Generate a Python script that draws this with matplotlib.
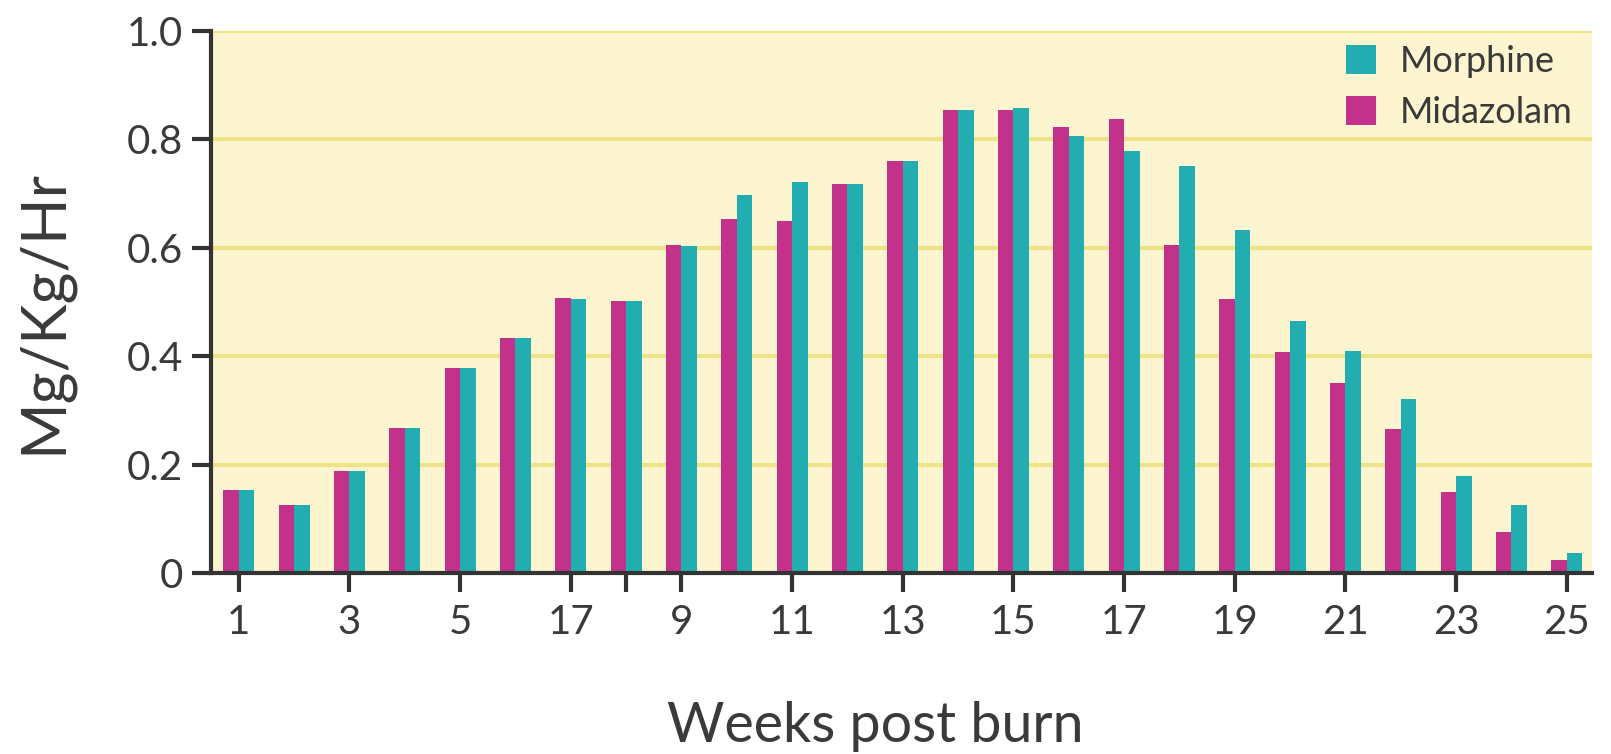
from matplotlib import pyplot as plt
import numpy as np

plt.rcParams['font.family'] = ['Lato', 'DejaVu Sans']

weeks = np.arange(1, 26)
midazolam = [0.154, 0.126, 0.188, 0.267, 0.378, 0.434, 0.507, 0.502, 0.606,
             0.653, 0.650, 0.718, 0.760, 0.855, 0.855, 0.822, 0.838, 0.606,
             0.505, 0.407, 0.350, 0.266, 0.150, 0.076, 0.024]
morphine = [0.154, 0.126, 0.188, 0.267, 0.378, 0.434, 0.505, 0.502, 0.603,
            0.698, 0.722, 0.718, 0.760, 0.855, 0.857, 0.806, 0.778, 0.750,
            0.633, 0.465, 0.410, 0.321, 0.179, 0.125, 0.037]

tick_pos = [1, 3, 5, 7, 8, 9, 11, 13, 15, 17, 19, 21, 23, 25]
tick_labels = ['1', '3', '5', '17', '', '9', '11', '13', '15', '17', '19',
               '21', '23', '25']

magenta = '#C2318A'
teal = '#22AEB0'
ink = '#333333'
txt = '#3a3a3a'

fig = plt.figure(figsize=(16.11, 7.54), dpi=100)
ax = fig.add_axes([0.131, 0.240, 0.857, 0.719])
ax.set_facecolor('#FDF5CF')

w = 0.28
ax.bar(weeks + w / 2, morphine, width=w, color=teal, label='Morphine', zorder=3)
ax.bar(weeks - w / 2, midazolam, width=w, color=magenta, label='Midazolam', zorder=3)

ax.set_xlim(0.5, 25.45)
ax.set_ylim(0, 1.0)
ax.set_yticks([0, 0.2, 0.4, 0.6, 0.8, 1.0])
ax.set_yticklabels(['0', '0.2', '0.4', '0.6', '0.8', '1.0'])
ax.set_xticks(tick_pos)
ax.set_xticklabels(tick_labels)

for y in [0.2, 0.4, 0.6, 0.8, 1.0]:
    ax.axhline(y, color='#EFE38A', lw=3, zorder=1)

for s in ['top', 'right']:
    ax.spines[s].set_visible(False)
for s in ['left', 'bottom']:
    ax.spines[s].set_color(ink)
    ax.spines[s].set_linewidth(3)
    ax.spines[s].set_zorder(4)

ax.tick_params(axis='both', colors=ink, width=3, length=14, labelsize=29,
               labelcolor=txt)
ax.tick_params(axis='x', pad=8)
ax.tick_params(axis='y', pad=6)

ax.set_xlabel('Weeks post burn', fontsize=40, color=txt)
ax.xaxis.set_label_coords(0.481, -0.236)
ax.set_ylabel('Mg/Kg/Hr', fontsize=44, color=txt, va='center')
ax.yaxis.set_label_coords(-0.121, 0.483)

ax.legend(loc='upper right', bbox_to_anchor=(0.986, 0.974), frameon=False,
          fontsize=26, handlelength=0.82, handleheight=0.82,
          handletextpad=0.65, labelspacing=0.5, borderaxespad=0,
          borderpad=0, labelcolor=txt)

fig.savefig('out.png', dpi=100)
